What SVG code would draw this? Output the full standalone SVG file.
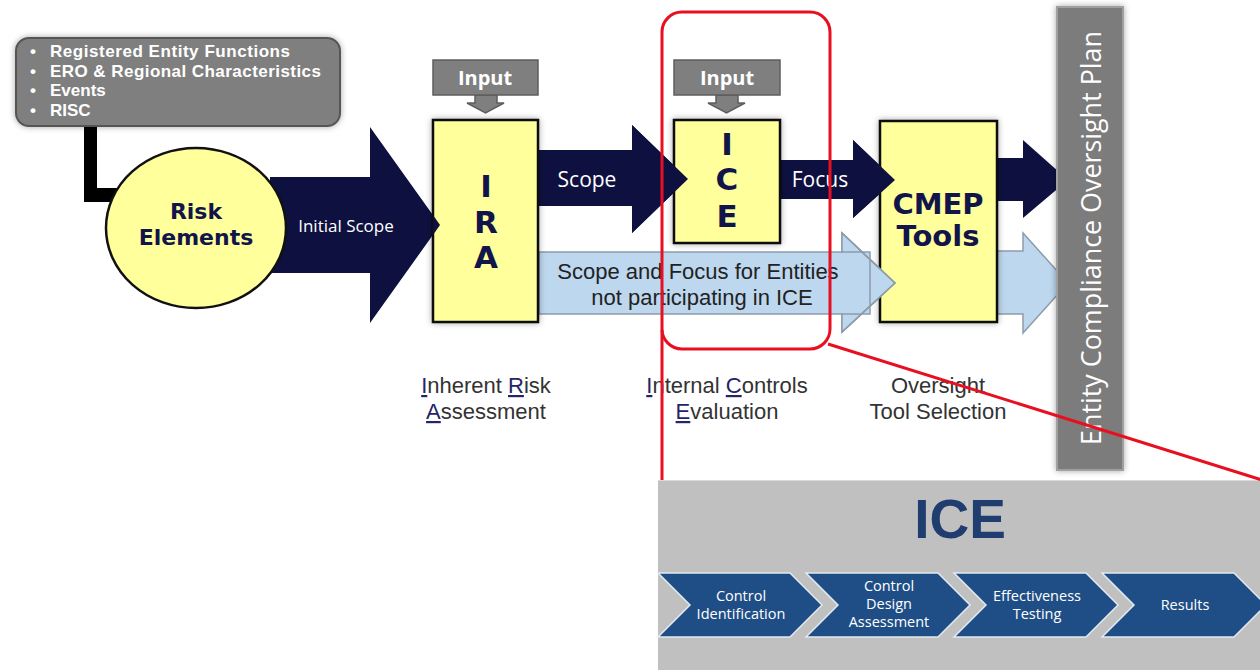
<svg xmlns="http://www.w3.org/2000/svg" width="1260" height="670" viewBox="0 0 1260 670">
<style>
.yel{fill:#ffff9c;stroke:#111;stroke-width:2.5}
.gray{fill:#7f7f7f;stroke:#5e5e5e;stroke-width:1.5}
.dark{fill:#0e1140}
.lb{fill:#bdd7ee;stroke:#8c9cab;stroke-width:1.5}
.big{font-family:"DejaVu Sans",sans-serif;font-weight:bold;fill:#12154a;text-anchor:middle}
.wt{font-family:"Open Sans",sans-serif;fill:#fff}
.bl{font-family:"Liberation Sans",Arial,sans-serif;font-weight:bold;fill:#fff;font-size:17px}
.inp{font-family:"Open Sans",sans-serif;font-weight:bold;fill:#fff;font-size:20px;text-anchor:middle}
.lbl{font-family:"Liberation Sans",Arial,sans-serif;fill:#333;font-size:22px;text-anchor:middle}
.sf{font-family:"Liberation Sans",Arial,sans-serif;fill:#222;font-size:22px;text-anchor:middle}
.u{fill:#24246a;text-decoration:underline}
.chev{fill:#1f4e86;stroke:#e4e9ef;stroke-width:1.5}
.ct{font-family:"Open Sans",sans-serif;fill:#fff;font-size:14.5px;text-anchor:middle}
.red{fill:none;stroke:#e81020;stroke-width:3}
</style>
<defs>
<filter id="sh" x="-20%" y="-20%" width="140%" height="140%">
<feDropShadow dx="0" dy="0" stdDeviation="3" flood-color="#000" flood-opacity="0.35"/>
</filter>
</defs>

<g id="connectors">
<polygon class="dark" points="270,177 370,177 370,127 440,225 370,323 370,273 270,273"/>
<polygon class="dark" points="539,150 632,150 632,125 688,179 632,233 632,206 539,206"/>
<polygon class="dark" points="780,160 853,160 853,140 895,180 853,218 853,199 780,199"/>
<polygon class="dark" points="997,158 1023,158 1023,140 1068,180 1023,218 1023,201 997,201"/>
<polygon class="lb" points="539,252 842,252 842,233 895,283 842,332 842,314 539,314"/>
<polygon class="lb" points="997,251 1023,251 1023,233 1068,283 1023,333 1023,314 997,314"/>
<polygon fill="#000" points="84,126 97,126 97,188 122,188 122,182 138,195 122,208 122,202 84,202"/>
<polygon class="gray" points="475,95 497,95 497,103 504,103 485.5,113 467,103 475,103"/>
<polygon class="gray" points="716,95 738,95 738,103 745,103 726.5,113 708,103 716,103"/>
</g>

<g id="inputs-box">
<rect x="16" y="38" width="324" height="88" rx="13" fill="#7f7f7f" stroke="#555" stroke-width="2" filter="url(#sh)"/>
<text class="bl" x="30" y="57">•</text><text class="bl" x="50" y="57" textLength="240">Registered Entity Functions</text>
<text class="bl" x="30" y="76.5">•</text><text class="bl" x="50" y="76.5" textLength="271">ERO &amp; Regional Characteristics</text>
<text class="bl" x="30" y="96">•</text><text class="bl" x="50" y="96">Events</text>
<text class="bl" x="30" y="115.5">•</text><text class="bl" x="50" y="115.5">RISC</text>
</g>

<g id="risk-elements">
<ellipse cx="196" cy="228" rx="90" ry="80" fill="#ffff9c" stroke="#111" stroke-width="2.5"/>
<text class="big" x="196" y="219" font-size="22">Risk</text>
<text class="big" x="196" y="245" font-size="22">Elements</text>
</g>
<text class="wt" x="346" y="232" font-size="17" text-anchor="middle">Initial Scope</text>

<g id="ira-input">
<rect class="gray" x="433" y="60" width="105" height="35"/>
<text class="inp" x="485" y="85">Input</text>
</g>
<g id="ira">
<rect class="yel" x="433" y="120" width="105" height="202" filter="url(#sh)"/>
<text class="big" x="486" y="197" font-size="31">I</text>
<text class="big" x="486" y="233" font-size="31">R</text>
<text class="big" x="486" y="268" font-size="31">A</text>
</g>

<g id="ice-input">
<rect class="gray" x="674" y="60" width="106" height="35"/>
<text class="inp" x="727" y="85">Input</text>
</g>
<g id="ice">
<rect class="yel" x="674" y="120" width="106" height="123" filter="url(#sh)"/>
<text class="big" x="727" y="155" font-size="31">I</text>
<text class="big" x="727" y="190" font-size="31">C</text>
<text class="big" x="727" y="227" font-size="31">E</text>
</g>
<polygon class="dark" points="632,150 632,125 688,179 632,233 632,206"/>

<g id="cmep">
<rect class="yel" x="880" y="121" width="117" height="201" filter="url(#sh)"/>
<text class="big" x="938" y="214" font-size="29">CMEP</text>
<text class="big" x="938" y="246" font-size="29">Tools</text>
</g>
<polygon class="dark" points="853,160 853,140 895,180 853,218 853,199"/>
<polygon class="lb" points="842,233 895,283 842,332 842,314 870,314 870,252 842,252" stroke="none"/>
<polyline points="842,233 895,283 842,332" fill="none" stroke="#8c9cab" stroke-width="1.5"/>
<polygon class="dark" points="440,225 433,215 433,235"/>

<text class="wt" x="587" y="187" font-size="21" text-anchor="middle">Scope</text>
<text class="wt" x="820" y="187" font-size="21" text-anchor="middle">Focus</text>
<text class="sf" x="698" y="279">Scope and Focus for Entities</text>
<text class="sf" x="702" y="305">not participating in ICE</text>

<g id="ecop">
<rect x="1057" y="7" width="66" height="463" fill="#7b7b7b" stroke="#a0a0a0" stroke-width="2" filter="url(#sh)"/>
<text class="wt" font-size="28" text-anchor="middle" transform="translate(1101,238) rotate(-90)" textLength="414" lengthAdjust="spacingAndGlyphs">Entity Compliance Oversight Plan</text>
</g>

<g id="labels">
<text class="lbl" x="486" y="393"><tspan class="u">I</tspan>nherent <tspan class="u">R</tspan>isk</text>
<text class="lbl" x="486" y="419"><tspan class="u">A</tspan>ssessment</text>
<text class="lbl" x="727" y="393"><tspan class="u">I</tspan>nternal <tspan class="u">C</tspan>ontrols</text>
<text class="lbl" x="727" y="419"><tspan class="u">E</tspan>valuation</text>
<text class="lbl" x="938" y="393">Oversight</text>
<text class="lbl" x="938" y="419">Tool Selection</text>
</g>

<g id="ice-panel">
<rect x="658" y="480" width="602" height="190" fill="#c0c0c0"/>
<line x1="658" y1="480.5" x2="1260" y2="480.5" stroke="#dadada" stroke-width="1"/>
<text x="960" y="538" font-family="Liberation Sans,Arial,sans-serif" font-weight="bold" font-size="55" fill="#1f3d6e" text-anchor="middle">ICE</text>
<g id="step1">
<polygon class="chev" points="658,573 790,573 822,605 790,637 658,637 690,605"/>
<text class="ct" x="741" y="601">Control</text><text class="ct" x="741" y="619">Identification</text>
</g>
<g id="step2">
<polygon class="chev" points="806,573 938,573 970,605 938,637 806,637 838,605"/>
<text class="ct" x="889" y="591">Control</text><text class="ct" x="889" y="609">Design</text><text class="ct" x="889" y="627">Assessment</text>
</g>
<g id="step3">
<polygon class="chev" points="954,573 1086,573 1118,605 1086,637 954,637 986,605"/>
<text class="ct" x="1037" y="601">Effectiveness</text><text class="ct" x="1037" y="619">Testing</text>
</g>
<g id="step4">
<polygon class="chev" points="1102,573 1234,573 1266,605 1234,637 1102,637 1134,605"/>
<text class="ct" x="1185" y="610">Results</text>
</g>
</g>

<g id="highlight">
<rect class="red" x="662" y="12" width="168" height="337" rx="20"/>
<line class="red" x1="662" y1="330" x2="662" y2="480"/>
<line class="red" x1="828" y1="344" x2="1262" y2="480"/>
</g>
</svg>
